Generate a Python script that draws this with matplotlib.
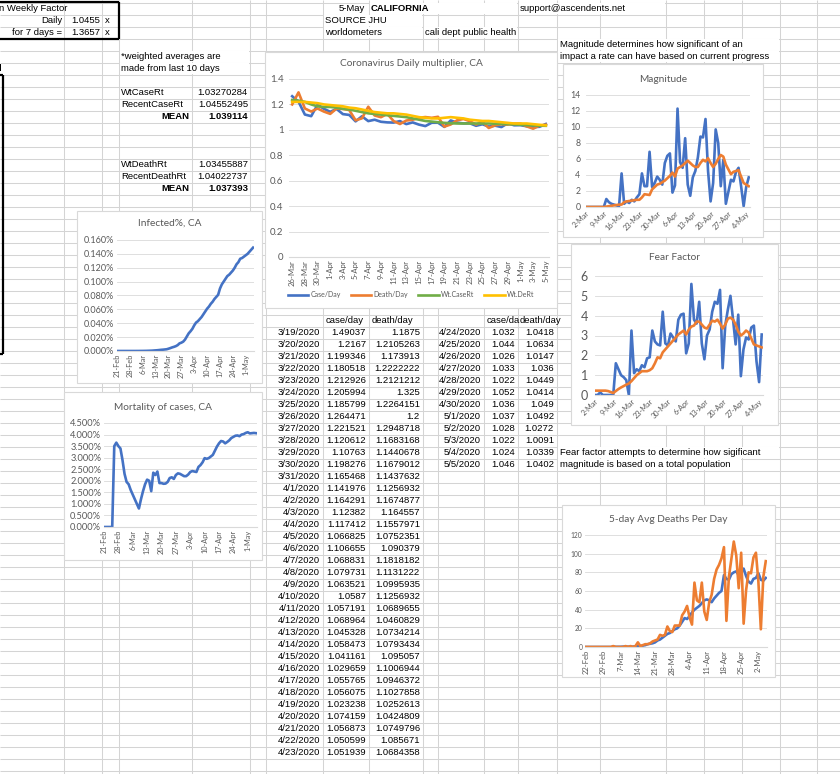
import matplotlib
matplotlib.use('Agg')
import matplotlib.pyplot as plt
from matplotlib.patches import Rectangle
from matplotlib.ticker import FuncFormatter, MultipleLocator
import pandas as pd

# ---------------- data ----------------
weekly_daily = "1.0455"
weekly_7days = "1.3657"

wt_case_rt_val = "1.03270284"
recent_case_rt_val = "1.04552495"
mean_case_val = "1.039114"
wt_death_rt_val = "1.03455887"
recent_death_rt_val = "1.04022737"
mean_death_val = "1.037393"

table_dates = pd.date_range('2020-03-19', '2020-05-05', freq='D')
case_per_day = [1.49037, 1.2167, 1.199346, 1.180518, 1.212926, 1.205994, 1.185799,
                1.264471, 1.221521, 1.120612, 1.10763, 1.198276, 1.165468, 1.141976,
                1.164291, 1.12382, 1.117412, 1.066825, 1.106655, 1.068831, 1.079731,
                1.063521, 1.0587, 1.057191, 1.068964, 1.045328, 1.058473, 1.041161,
                1.029659, 1.055765, 1.056075, 1.023238, 1.074159, 1.056873, 1.050599,
                1.051939, 1.032, 1.044, 1.026, 1.033, 1.022, 1.052, 1.036, 1.037,
                1.028, 1.022, 1.024, 1.046]
death_per_day = [1.1875, 1.2105263, 1.173913, 1.2222222, 1.2121212, 1.325, 1.2264151,
                 1.2, 1.2948718, 1.1683168, 1.1440678, 1.1679012, 1.1437632, 1.1256932,
                 1.1674877, 1.164557, 1.1557971, 1.0752351, 1.090379, 1.1818182, 1.1131222,
                 1.0995935, 1.1256932, 1.0689655, 1.0460829, 1.0734214, 1.0793434, 1.095057,
                 1.1006944, 1.0946372, 1.1027858, 1.0252613, 1.0424809, 1.0749796, 1.085671,
                 1.0684358, 1.0418, 1.0634, 1.0147, 1.036, 1.0449, 1.0414, 1.049, 1.0492,
                 1.0272, 1.0091, 1.0339, 1.0402]

mult_dates = pd.date_range('2020-03-26', '2020-05-05', freq='D')
wt_case_rt = [1.235, 1.23, 1.22, 1.20, 1.185, 1.18, 1.18, 1.175, 1.165, 1.16, 1.15, 1.14,
              1.13, 1.125, 1.12, 1.115, 1.11, 1.105, 1.10, 1.09, 1.08, 1.07, 1.065, 1.06,
              1.055, 1.052, 1.05, 1.05, 1.05, 1.05, 1.05, 1.05, 1.048, 1.046, 1.045, 1.043,
              1.04, 1.037, 1.035, 1.033, 1.032]
wt_death_rt = [1.22, 1.22, 1.22, 1.215, 1.21, 1.20, 1.195, 1.19, 1.185, 1.175, 1.17, 1.16,
               1.15, 1.14, 1.135, 1.13, 1.13, 1.125, 1.12, 1.11, 1.10, 1.095, 1.09, 1.09,
               1.095, 1.10, 1.095, 1.09, 1.08, 1.075, 1.07, 1.07, 1.065, 1.06, 1.055, 1.05,
               1.05, 1.05, 1.045, 1.04, 1.035]

mag_dates = pd.date_range('2020-03-02', '2020-05-05', freq='D')
magnitude = [0, 0, 0, 0, 0, 0, 0, 0, 1.0, 0.6, 0.4, 0.3, 0.2, 0.1,
             4.2, 0.4, 0.7, 0.5, 0.9, 0.7, 1.2, 1.6, 4.2, 2.6,
             2.6, 6.9, 2.5, 3.0, 3.8, 3.4, 2.8, 5.5, 6.4, 6.7,
             1.8, 2.7, 12.3, 5.6, 4.9, 8.6, 2.8, 1.4, 3.7, 4.5,
             6.2, 8.8, 8.7, 11.0, 4.5, 0.7, 3.0, 9.7, 8.0, 2.6,
             5.9, 0.4, 1.9, 3.4, 3.2, 4.4, 4.9, 2.6, 0.1, 2.5, 3.7]
magnitude_avg = [0, 0, 0, 0, 0, 0, 0, 0, 0.05,
                 0.1, 0.15, 0.2, 0.25, 0.3, 0.3, 0.6, 0.7, 0.75, 0.8,
                 0.85, 0.9, 0.9, 1.2, 1.6, 1.55, 1.5, 2.2, 2.5, 2.8,
                 2.9, 3.1, 3.3, 3.6, 3.9, 4.3, 3.8, 4.8, 5.0, 5.2,
                 5.5, 5.8, 5.5, 5.2, 5.0, 5.0, 5.5, 5.9, 5.7, 6.1,
                 5.5, 5.0, 5.4, 6.0, 6.5, 6.3, 5.3, 4.7, 4.1, 4.4,
                 4.5, 4.6, 3.8, 3.0, 2.8, 2.6]
fear = [0, 0, 0.13, 0, 0, 0, 0, 0, 1.6, 1.3, 1.0, 0.9, 0.75, 0.0,
        3.25, 1.1, 1.3, 1.2, 1.5, 1.4, 1.85, 1.9, 3.25, 2.7,
        2.55, 2.5, 4.2, 2.6, 2.5, 3.1, 2.9, 2.7, 3.8, 4.05,
        4.1, 2.1, 2.6, 5.6, 3.8, 3.6, 4.7, 2.6, 1.8, 3.0,
        3.3, 4.2, 4.7, 4.6, 5.3, 1.35, 3.5, 4.3, 5.0, 3.8,
        2.55, 4.05, 0.95, 2.3, 2.9, 2.8, 3.4, 3.5, 1.7, 0.65, 3.05]
fear_avg = [0.22, 0.22, 0.22, 0.22, 0.22, 0.2, 0.15, 0.1, 0.2, 0.3,
            0.38, 0.45, 0.52, 0.58, 0.7, 0.85, 1.0, 1.1, 1.2, 1.2,
            1.2, 1.25, 1.35, 1.6, 1.9, 1.85, 2.15, 2.3, 2.45, 2.6,
            2.75, 2.9, 3.05, 3.15, 3.25, 3.05, 3.3, 3.45, 3.5, 3.7,
            3.7, 3.55, 3.4, 3.35, 3.55, 3.75, 3.7, 3.8, 3.6, 3.35,
            3.55, 3.85, 3.9, 3.8, 3.55, 3.2, 3.0, 3.1, 3.25, 3.15,
            2.85, 2.55, 2.5, 2.45, 2.4]

ca_dates = pd.date_range('2020-02-21', '2020-05-05', freq='D')
infected_pct = [0.00001] * 11 + [
    0.00003, 0.00005, 0.00008, 0.0001, 0.00015, 0.0002,
    0.0003, 0.0004, 0.0005, 0.0007, 0.0009, 0.0011, 0.0014, 0.0017, 0.0019, 0.0022,
    0.0025, 0.0033, 0.0042, 0.0052, 0.0060, 0.0070, 0.0085, 0.0110, 0.0120, 0.0135,
    0.0165, 0.0210, 0.0255, 0.0285, 0.0320, 0.0370, 0.0410, 0.0430, 0.0460, 0.0490,
    0.0530, 0.0570, 0.0610, 0.0640, 0.0680, 0.0710, 0.0750, 0.0780, 0.0810, 0.0900,
    0.0960, 0.1000, 0.1040, 0.1080, 0.1100, 0.1130, 0.1160, 0.1200, 0.1250, 0.1280,
    0.1330, 0.1340, 0.1360, 0.1380, 0.1400, 0.1430, 0.1460, 0.1490]
mortality_pct = [0, 0, 0, 0, 0, 3.5, 3.65, 3.5, 3.4, 2.9,
                 2.3, 1.95, 1.85, 1.6, 1.4, 1.2, 1.0, 0.8, 1.2, 1.55,
                 1.85, 2.05, 2.0, 1.55, 2.35, 2.25, 2.4, 1.9, 1.9, 1.87,
                 1.88, 1.95, 2.12, 2.15, 2.08, 2.25, 2.32, 2.3, 2.25, 2.2,
                 2.2, 2.27, 2.38, 2.42, 2.4, 2.38, 2.6, 2.68, 2.8, 2.98,
                 2.95, 2.98, 3.05, 3.12, 3.3, 3.48, 3.62, 3.72, 3.7, 3.62,
                 3.68, 3.75, 3.85, 3.9, 3.95, 3.96, 3.93, 4.0, 4.02, 4.07,
                 4.1, 4.05, 4.06, 4.07, 4.06]

death_dates = pd.date_range('2020-02-22', '2020-05-05', freq='D')
deaths_5day = [0] * 11 + [0.2, 0.2, 0.2, 0.2, 0.4, 0.4, 0.4, 0.2, 0.4, 0.6, 0.8] + [
    1, 1.5, 2, 3, 3.5, 4, 5, 7, 8, 10,
    12, 14, 15, 17, 19, 20, 23, 27, 31, 30,
    33, 37, 40, 42, 44, 47, 50, 51, 50, 48,
    52, 55, 58, 60, 77, 73, 72, 78, 80, 81,
    77, 80, 84, 76, 70, 68, 73, 74, 79, 72,
    71, 74]
deaths_daily = [0, 0, 0, 0, 0, 0, 0, 0, 0, 0, 0, 1, 0, 0, 0, 0, 1, 0, 1, 0, 1,
                5, 1, 2, 3, 3, 4, 6, 7, 8, 13, 12, 13, 22, 17, 16, 23, 23, 23, 34, 38, 44, 32, 24,
                69, 50, 48, 69, 38, 29, 48, 56, 73, 83, 88, 95, 107, 28, 75, 94, 113, 98, 63,
                101, 25, 61, 80, 79, 96, 101, 70, 19, 75, 92]

# ---------------- style ----------------
W, H = 840, 774
CELL_FONT = 'Liberation Sans'
CHART_FONT = 'Lato'
plt.rcParams['font.family'] = [CHART_FONT, 'DejaVu Sans']
GRID = '#d4d4d4'
TXT = '#595959'
CGRID = '#d9d9d9'
BLUE, ORANGE, GREEN, GOLD = '#4472c4', '#ed7d31', '#70ad47', '#ffc000'

fig = plt.figure(figsize=(W / 100, H / 100), dpi=100)
bg = fig.add_axes([0, 0, 1, 1])
bg.set_xlim(0, W)
bg.set_ylim(H, 0)
bg.axis('off')

# spreadsheet grid
col_edges = [64, 102, 119, 192, 250, 266, 323, 369, 423, 438, 484, 518, 557, 600,
             666, 704, 742, 780, 817]
for x in col_edges:
    bg.vlines(x, 0, H, color=GRID, lw=0.75, zorder=1)
for k in range(66):
    bg.hlines(2.5 + 12 * k, 0, W, color=GRID, lw=0.75, zorder=1)


def rowy(k):
    return 8.5 + 12 * k


def spill(k, x0, x1):
    bg.add_patch(Rectangle((x0 + 0.6, 2.5 + 12 * k + 0.6), x1 - x0 - 1.2, 10.8,
                           fc='white', ec='none', zorder=1.5))


def cell(x, k, s, ha='left', bold=False, size=6.8):
    bg.text(x, rowy(k), s, ha=ha, va='center', fontsize=size, family=CELL_FONT,
            fontweight='bold' if bold else 'normal', color='black', zorder=3)


# overflow areas
spill(0, 369, 518)
spill(0, 518, 666)
spill(1, 323, 423)
spill(2, 323, 423)
spill(2, 423, 518)
spill(3, 557, 780)
spill(4, 557, 780)
spill(4, 119, 250)
spill(5, 119, 250)
spill(37, 557, 780)
spill(38, 557, 742)

# top-left block
cell(-1, 0, "n Weekly Factor")
cell(62, 1, "Daily", ha='right')
cell(100, 1, weekly_daily, ha='right')
cell(105, 1, "x")
cell(62, 2, "for 7 days =", ha='right')
cell(100, 2, weekly_7days, ha='right')
cell(105, 2, "x")
bg.hlines([2, 38.5], 0, 119, color='black', lw=1.6, zorder=4)
bg.vlines(119, 2, 38.5, color='black', lw=1.6, zorder=4)
bg.vlines(2.5, 75, 354, color='black', lw=1.6, zorder=4)
bg.hlines([75, 354], 0, 2.5, color='black', lw=1.6, zorder=4)
cell(-1.5, 5, "l", bold=True)

# header
cell(365, 0, "5-May", ha='right')
cell(371, 0, "CALIFORNIA", bold=True)
cell(520, 0, "support@ascendents.net")
cell(325, 1, "SOURCE JHU")
cell(325, 2, "worldometers")
cell(425, 2, "cali dept public health")
cell(560, 3, "Magnitude determines how significant of an")
cell(560, 4, "impact a rate can have based on current progress")

# weighted averages block
cell(121, 4, "*weighted averages are")
cell(121, 5, "made from last 10 days")
cell(121, 7, "WtCaseRt")
cell(248, 7, wt_case_rt_val, ha='right')
cell(121, 8, "RecentCaseRt")
cell(248, 8, recent_case_rt_val, ha='right')
cell(189, 9, "MEAN", ha='right', bold=True)
cell(248, 9, mean_case_val, ha='right', bold=True)
cell(121, 13, "WtDeathRt")
cell(248, 13, wt_death_rt_val, ha='right')
cell(121, 14, "RecentDeathRt")
cell(248, 14, recent_death_rt_val, ha='right')
cell(189, 15, "MEAN", ha='right', bold=True)
cell(248, 15, mean_death_val, ha='right', bold=True)

# data table
cell(326, 26, "case/day")
cell(372, 26, "death/day")
cell(487, 26, "case/da")
cell(520, 26, "death/day")
for i, (d, c, dd) in enumerate(zip(table_dates, case_per_day, death_per_day)):
    label = f"{d.month}/{d.day}/{d.year}"
    if i < 36:
        k = 27 + i
        cell(320, k, label, ha='right')
        cell(366, k, str(c), ha='right')
        cell(420, k, str(dd), ha='right')
    else:
        k = 27 + i - 36
        cell(481, k, label, ha='right')
        cell(515, k, str(c), ha='right')
        cell(554, k, str(dd), ha='right')

cell(560, 37, "Fear factor attempts to determine how sigificant")
cell(560, 38, "magnitude is based on a total population")


# ---------------- charts ----------------
def px_axes(x0, y0, x1, y1):
    return fig.add_axes([x0 / W, 1 - y1 / H, (x1 - x0) / W, (y1 - y0) / H])


def chart(frame, plot, title, title_y, title_size=7.3):
    fx0, fy0, fx1, fy1 = frame
    bg.add_patch(Rectangle((fx0, fy0), fx1 - fx0, fy1 - fy0, fc='white', ec=CGRID,
                           lw=0.8, zorder=5))
    bg.text((fx0 + fx1) / 2, title_y, title, ha='center', va='center',
            fontsize=title_size, family=CHART_FONT, color=TXT, zorder=6)
    ax = px_axes(*plot)
    ax.patch.set_alpha(0)
    for s in ('top', 'right', 'left'):
        ax.spines[s].set_visible(False)
    ax.spines['bottom'].set_color(CGRID)
    ax.spines['bottom'].set_linewidth(0.8)
    ax.grid(axis='y', color=CGRID, lw=0.6)
    ax.set_axisbelow(True)
    ax.tick_params(axis='both', length=0, colors=TXT, pad=2)
    return ax


def date_ticks(ax, ticks, rot, size):
    ax.set_xticks(ticks)
    labels = [f"{d.day}-{d.strftime('%b')}" for d in ticks]
    if rot == 90:
        ax.set_xticklabels(labels, rotation=90, ha='right', va='center',
                           rotation_mode='anchor', fontsize=size, color=TXT)
    else:
        ax.set_xticklabels(labels, rotation=rot, ha='right', va='top',
                           rotation_mode='anchor', fontsize=size, color=TXT)


half = pd.Timedelta(hours=12)
LW = 1.9

# 1. Daily multiplier
ax1 = chart((265, 52, 557, 308), (289, 79, 549, 257),
            "Coronavirus Daily multiplier, CA", 64)
l1, = ax1.plot(mult_dates, case_per_day[7:], color=BLUE, lw=LW)
l2, = ax1.plot(mult_dates, death_per_day[7:], color=ORANGE, lw=LW)
l3, = ax1.plot(mult_dates, wt_case_rt, color=GREEN, lw=LW)
l4, = ax1.plot(mult_dates, wt_death_rt, color=GOLD, lw=LW)
ax1.set_ylim(0, 1.4)
ax1.yaxis.set_major_locator(MultipleLocator(0.2))
ax1.yaxis.set_major_formatter(FuncFormatter(lambda v, _: f"{v:g}"))
ax1.tick_params(axis='y', labelsize=7, pad=4)
ax1.set_xlim(mult_dates[0] - half, mult_dates[-1] + half)
date_ticks(ax1, mult_dates[::2], 90, 5.6)
fig.legend([l1, l2, l3, l4], ["Case/Day", "Death/Day", "Wt.CaseRt", "Wt.DeRt"],
           loc='center', bbox_to_anchor=(411 / W, 1 - 295 / H), ncol=4, frameon=False,
           fontsize=5, handlelength=3.0, columnspacing=1.4, handletextpad=0.3,
           labelcolor=TXT)

# 2. Magnitude
ax2 = chart((563, 64, 763, 237), (586, 95, 750, 207), "Magnitude", 79)
ax2.plot(mag_dates, magnitude, color=BLUE, lw=LW)
ax2.plot(mag_dates, magnitude_avg, color=ORANGE, lw=LW)
ax2.set_ylim(0, 14)
ax2.yaxis.set_major_locator(MultipleLocator(2))
ax2.tick_params(axis='y', labelsize=6.3, pad=4)
ax2.set_xlim(mag_dates[0], mag_dates[-1] + half)
date_ticks(ax2, mag_dates[::7], 45, 5.3)

# 3. Fear Factor
ax3 = chart((571, 244, 778, 425), (595, 276, 763, 395), "Fear Factor", 258)
ax3.plot(mag_dates, fear, color=BLUE, lw=LW)
ax3.plot(mag_dates, fear_avg, color=ORANGE, lw=LW)
ax3.set_ylim(0, 6)
ax3.yaxis.set_major_locator(MultipleLocator(1))
ax3.tick_params(axis='y', labelsize=9, pad=5)
ax3.set_xlim(mag_dates[0], mag_dates[-1] + half)
date_ticks(ax3, mag_dates[::7], 45, 5.3)

# 4. Infected%
ax4 = chart((77, 211, 262, 383), (117, 240, 254, 351), "Infected%, CA", 223)
ax4.plot(ca_dates, infected_pct, color=BLUE, lw=LW)
ax4.set_ylim(0, 0.16)
ax4.yaxis.set_major_locator(MultipleLocator(0.02))
ax4.yaxis.set_major_formatter(FuncFormatter(lambda v, _: f"{v:.3f}%"))
ax4.tick_params(axis='y', labelsize=6.5)
ax4.set_xlim(ca_dates[0], ca_dates[-1] + half)
date_ticks(ax4, ca_dates[::7], 90, 5.3)

# 5. Mortality
ax5 = chart((64, 392, 262, 560), (104, 423, 257, 527), "Mortality of cases, CA", 407)
ax5.plot(ca_dates, mortality_pct, color=BLUE, lw=LW)
ax5.set_ylim(0, 4.5)
ax5.yaxis.set_major_locator(MultipleLocator(0.5))
ax5.yaxis.set_major_formatter(FuncFormatter(lambda v, _: f"{v:.3f}%"))
ax5.tick_params(axis='y', labelsize=6.7)
ax5.set_xlim(ca_dates[0], ca_dates[-1] + half)
date_ticks(ax5, ca_dates[::7], 90, 5.3)

# 6. 5-day Avg Deaths
ax6 = chart((562, 505, 775, 677), (585, 535, 767, 647), "5-day Avg Deaths Per Day", 519)
ax6.plot(death_dates, deaths_5day, color=BLUE, lw=LW)
ax6.plot(death_dates, deaths_daily, color=ORANGE, lw=LW)
ax6.set_ylim(0, 120)
ax6.yaxis.set_major_locator(MultipleLocator(20))
ax6.tick_params(axis='y', labelsize=4.8)
ax6.set_xlim(death_dates[0] - half, death_dates[-1] + half)
date_ticks(ax6, death_dates[::7], 90, 5.5)

fig.savefig('out.png', dpi=100)
